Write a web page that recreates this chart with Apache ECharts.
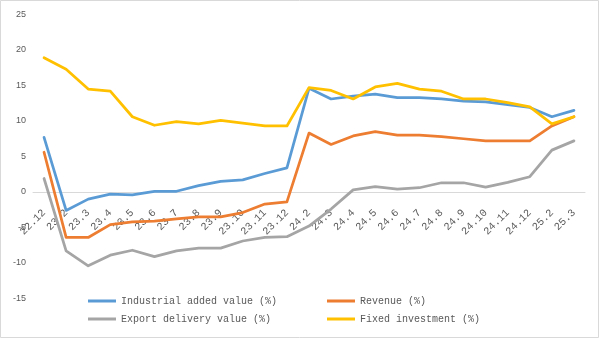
<!DOCTYPE html>
<html>
<head>
<meta charset="utf-8">
<script src="https://cdn.jsdelivr.net/npm/echarts@6/dist/echarts.min.js"></script>
<style>html,body{margin:0;padding:0;background:#fff}#c{width:600px;height:339px}</style>
</head>
<body>
<div id="c"></div>
<script>
var categories = ['22.12','23.2','23.3','23.4','23.5','23.6','23.7','23.8','23.9','23.10','23.11','23.12','24.2','24.3','24.4','24.5','24.6','24.7','24.8','24.9','24.10','24.11','24.12','25.2','25.3'];
var industrial = [7.7,-2.6,-1.0,-0.3,-0.4,0.1,0.1,0.9,1.5,1.7,2.6,3.4,14.6,13.1,13.5,13.8,13.3,13.3,13.1,12.8,12.7,12.3,11.9,10.6,11.5];
var revenue = [5.6,-6.4,-6.4,-4.6,-4.2,-4.1,-3.8,-3.5,-3.5,-2.9,-1.7,-1.4,8.3,6.7,7.9,8.5,8.0,8.0,7.8,7.5,7.2,7.2,7.2,9.3,10.6];
var exportVal = [1.9,-8.3,-10.4,-8.9,-8.2,-9.1,-8.3,-7.9,-7.9,-6.9,-6.4,-6.3,-4.8,-2.4,0.3,0.75,0.4,0.6,1.3,1.3,0.7,1.35,2.15,5.9,7.2];
var fixedInv = [18.9,17.3,14.5,14.2,10.6,9.4,9.9,9.6,10.1,9.7,9.3,9.3,14.7,14.3,13.1,14.8,15.3,14.5,14.2,13.1,13.1,12.6,12.0,9.6,10.6];
var names = ['Industrial added value (%)','Revenue (%)','Export delivery value (%)','Fixed investment (%)'];
var colors = ['#5B9BD5','#ED7D31','#A5A5A5','#FFC000'];
var yTicks = {min:-15, max:25, interval:5};

var gridTop = 14.5, gridBottom = 40.5, H = 339;
var plotH = H - gridTop - gridBottom;
var zeroOffset = -plotH * (0 - yTicks.min) / (yTicks.max - yTicks.min);

var chart = echarts.init(document.getElementById('c'), null, {renderer:'canvas'});
var font = 'Liberation Mono';
function lg(i, left, top){
  return {data:[names[i]], left:left, top:top, padding:0, icon:'rect', itemWidth:28, itemHeight:3,
    textStyle:{fontFamily:font, fontSize:10, color:'#595959'}, selectedMode:false};
}
var datas = [industrial, revenue, exportVal, fixedInv];
chart.setOption({
  animation:false,
  backgroundColor:'#fff',
  graphic:[{type:'rect', shape:{x:0.5,y:0.5,width:598,height:337}, style:{fill:'none', stroke:'#d9d9d9', lineWidth:1}}],
  grid:{left:33, right:15, top:gridTop, bottom:gridBottom},
  legend:[lg(0,88,296), lg(1,327,296), lg(2,88,314), lg(3,327,314)],
  xAxis:{type:'category', data:categories, boundaryGap:true, position:'bottom', offset:zeroOffset,
    axisLine:{onZero:false, lineStyle:{color:'#d9d9d9', width:1}},
    axisTick:{show:false},
    axisLabel:{rotate:45, margin:19, interval:0, fontFamily:font, fontSize:10.5, color:'#595959'}},
  yAxis:{type:'value', min:yTicks.min, max:yTicks.max, interval:yTicks.interval,
    axisLine:{show:false}, axisTick:{show:false}, splitLine:{show:false},
    axisLabel:{margin:7, fontFamily:'Liberation Sans', fontSize:9, color:'#595959'}},
  series: datas.map(function(d,i){
    return {name:names[i], type:'line', data:d, symbol:'none', z:2+i,
      lineStyle:{color:colors[i], width:2.75, cap:'round', join:'round'}, itemStyle:{color:colors[i]}};
  })
});
</script>
</body>
</html>
